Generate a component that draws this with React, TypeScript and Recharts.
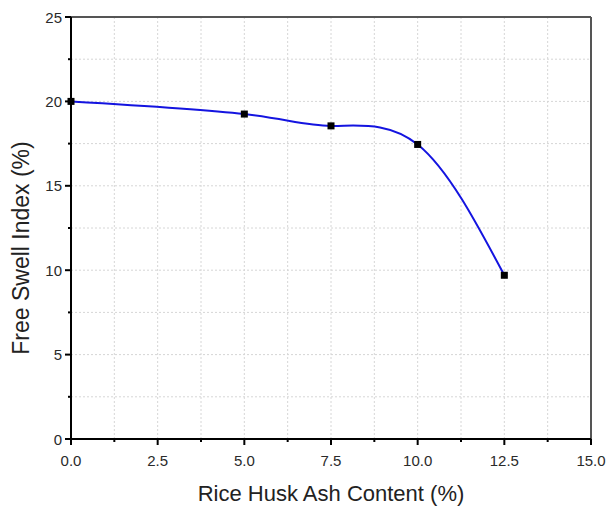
import React from 'react';
import { LineChart, Line, XAxis, YAxis, CartesianGrid, ReferenceLine, Label } from 'recharts';

const ashContent = [0, 5, 7.5, 10, 12.5];
const swellIndex = [20.0, 19.25, 18.55, 17.45, 9.7];
const xTicks = [0, 1.25, 2.5, 3.75, 5, 6.25, 7.5, 8.75, 10, 11.25, 12.5, 13.75, 15];
const yTicks = [0, 2.5, 5, 7.5, 10, 12.5, 15, 17.5, 20, 22.5, 25];
const xTitle = 'Rice Husk Ash Content (%)';
const yTitle = 'Free Swell Index (%)';

const data = ashContent.map((x, i) => ({ x, y: swellIndex[i] }));

const FONT = 'Arial, "Liberation Sans", sans-serif';
const TICK_SIZE = 6;
const TICK_MARGIN = 2;

const XTick = (props: any) => {
  const { x, y, payload, index } = props;
  const axisY = y - TICK_SIZE - TICK_MARGIN;
  const major = index % 2 === 0;
  return (
    <g>
      <line x1={x} x2={x} y1={axisY} y2={axisY + (major ? 6 : 3)} stroke="#000" strokeWidth={2} />
      {major && (
        <text x={x} y={axisY + 27} textAnchor="middle" fontSize={15} fontFamily={FONT} fill="#2a2a2a">
          {Number(payload.value).toFixed(1)}
        </text>
      )}
    </g>
  );
};

const YTick = (props: any) => {
  const { x, y, payload, index } = props;
  const axisX = x + TICK_SIZE + TICK_MARGIN;
  const major = index % 2 === 0;
  return (
    <g>
      <line x1={axisX} x2={axisX - (major ? 6 : 3)} y1={y} y2={y} stroke="#000" strokeWidth={2} />
      {major && (
        <text x={axisX - 9} y={y + 5.5} textAnchor="end" fontSize={15} fontFamily={FONT} fill="#2a2a2a">
          {String(payload.value)}
        </text>
      )}
    </g>
  );
};

const SquareDot = (props: any) => {
  const { cx, cy } = props;
  if (cx == null || cy == null) return null;
  return <rect x={cx - 3.5} y={cy - 3.5} width={7} height={7} fill="#000" />;
};

export default function App() {
  return (
    <div style={{ position: 'absolute', left: 0, top: 0, background: '#fff' }}>
      <LineChart width={607} height={508} data={data} margin={{ top: 17, right: 16, bottom: 9, left: 10 }}>
        <CartesianGrid stroke="#d6d6d6" strokeDasharray="2 2" strokeWidth={1} />
        <XAxis
          dataKey="x"
          type="number"
          domain={[0, 15]}
          ticks={xTicks}
          interval={0}
          height={60}
          tickSize={TICK_SIZE}
          tickMargin={TICK_MARGIN}
          tickLine={false}
          tick={<XTick />}
          axisLine={{ stroke: '#000', strokeWidth: 2 }}
        >
          <Label
            content={(p: any) => {
              const vb = p.viewBox || { x: 71, y: 439, width: 520 };
              return (
                <text x={vb.x + vb.width / 2} y={vb.y + 62} textAnchor="middle" fontSize={22} fontFamily={FONT} fill="#222">
                  {xTitle}
                </text>
              );
            }}
          />
        </XAxis>
        <YAxis
          type="number"
          domain={[0, 25]}
          ticks={yTicks}
          interval={0}
          width={61}
          tickSize={TICK_SIZE}
          tickMargin={TICK_MARGIN}
          tickLine={false}
          tick={<YTick />}
          axisLine={{ stroke: '#000', strokeWidth: 2 }}
        >
          <Label
            content={() => (
              <text
                x={21}
                y={248}
                transform="rotate(-90 21 248)"
                textAnchor="middle"
                dominantBaseline="central"
                fontSize={23}
                fontFamily={FONT}
                fill="#222"
              >
                {yTitle}
              </text>
            )}
          />
        </YAxis>
        <ReferenceLine y={25} stroke="#555" strokeWidth={2} />
        <ReferenceLine x={15} stroke="#555" strokeWidth={2} />
        <Line
          type="natural"
          dataKey="y"
          stroke="#1414e0"
          strokeWidth={2}
          dot={<SquareDot />}
          activeDot={false}
          isAnimationActive={false}
        />
      </LineChart>
    </div>
  );
}
